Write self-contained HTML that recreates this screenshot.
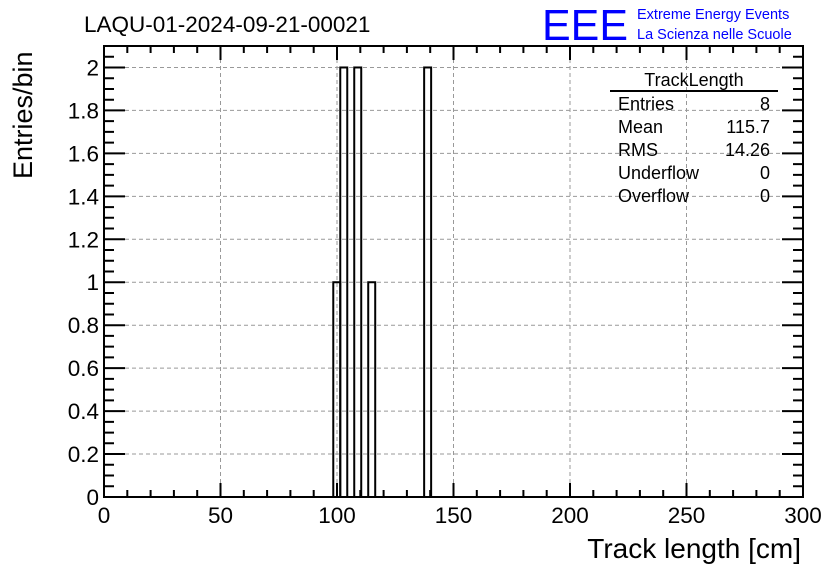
<!DOCTYPE html>
<html><head><meta charset="utf-8"><style>
body{margin:0;background:#fff;}
svg{display:block;font-family:"Liberation Sans",Arial,sans-serif;}
</style></head><body>
<svg id="c" width="836" height="572">
<rect width="836" height="572" fill="#fff"/>
<g id="grid"></g>
<g id="bars"></g>
<g id="axes"></g>
<text x="84" y="32" font-size="22.5">LAQU-01-2024-09-21-00021</text>
<text x="542" y="40" font-size="44" fill="#0000ff" textLength="86" lengthAdjust="spacingAndGlyphs">EEE</text>
<text x="637" y="19" font-size="14.5" fill="#0000ff">Extreme Energy Events</text>
<text x="637" y="39" font-size="14.5" fill="#0000ff">La Scienza nelle Scuole</text>
<text x="801" y="558" font-size="28" text-anchor="end">Track length [cm]</text>
<text transform="translate(32,179) rotate(-90)" font-size="27" text-anchor="start">Entries/bin</text>
<g font-size="18">
<text x="694" y="86" text-anchor="middle">TrackLength</text>
<line x1="610" y1="91" x2="778" y2="91" stroke="#000" stroke-width="2"/>
<text x="618" y="110">Entries</text><text x="770" y="110" text-anchor="end">8</text>
<text x="618" y="133">Mean</text><text x="770" y="133" text-anchor="end">115.7</text>
<text x="618" y="156">RMS</text><text x="770" y="156" text-anchor="end">14.26</text>
<text x="618" y="179">Underflow</text><text x="770" y="179" text-anchor="end">0</text>
<text x="618" y="202">Overflow</text><text x="770" y="202" text-anchor="end">0</text>
</g>
</svg>
<script>
const binLow=[98.4,101.4,107.4,113.4,137.4];
const binCounts=[1,2,2,1,2];
const binWidth=3;
const xTicks=[0,50,100,150,200,250,300];
const yTicks=[0,0.2,0.4,0.6,0.8,1,1.2,1.4,1.6,1.8,2];
const yTickLabels=["0","0.2","0.4","0.6","0.8","1","1.2","1.4","1.6","1.8","2"];
const X0=104,X1=803,Y0=497,Y1=46,xmax=300,ymax=2.1;
const sx=v=>X0+(X1-X0)*v/xmax, sy=v=>Y0-(Y0-Y1)*v/ymax;
const NS="http://www.w3.org/2000/svg";
function mk(t,a,p){const e=document.createElementNS(NS,t);for(const k in a)e.setAttribute(k,a[k]);p.appendChild(e);return e;}
const grid=document.getElementById('grid'),axes=document.getElementById('axes'),bars=document.getElementById('bars');
xTicks.forEach(v=>{if(v>0&&v<xmax){const l=mk('line',{x1:sx(v),x2:sx(v),y1:Y0,y2:Y1,stroke:'#999','stroke-dasharray':'4,3'},grid);}});
yTicks.forEach(v=>{if(v>0){const l=mk('line',{x1:X0,x2:X1,y1:sy(v),y2:sy(v),stroke:'#999','stroke-dasharray':'4,3'},grid);}});
binLow.forEach((lo,i)=>{const x=sx(lo),w=sx(lo+binWidth)-x,y=sy(binCounts[i]);
const r=mk('rect',{x:x,y:y,width:w,height:Y0-y,fill:'none',stroke:'#000','stroke-width':2},bars);
});
mk('rect',{x:X0,y:Y1,width:X1-X0,height:Y0-Y1,fill:'none',stroke:'#000','stroke-width':2},axes);
let d='';
for(let v=0;v<=xmax;v+=10){const x=sx(v),L=(v%50===0)?14:7;d+=`M${x},${Y0}v${-L}M${x},${Y1}v${L}`;}
for(let i=0;i*0.05<=ymax+1e-9;i++){const y=sy(i*0.05),L=(i%4===0)?21:10;d+=`M${X0},${y}h${L}M${X1},${y}h${-L}`;}
mk('path',{d:d,stroke:'#000','stroke-width':2,fill:'none'},axes);
xTicks.forEach(v=>{const t=mk('text',{x:sx(v),y:523,'font-size':22.5,'text-anchor':'middle'},axes);t.textContent=v;});
yTicks.forEach((v,i)=>{const t=mk('text',{x:99,y:sy(v)+8,'font-size':22.5,'text-anchor':'end'},axes);t.textContent=yTickLabels[i];});
</script>
</body></html>
